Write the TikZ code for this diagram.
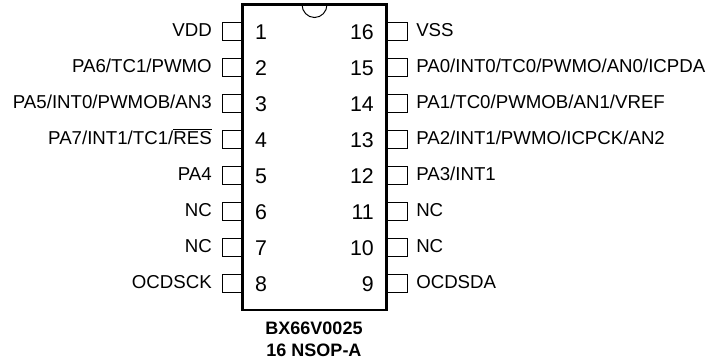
\documentclass[tikz,border=0pt]{standalone}
\usepackage{fontspec}
\setmainfont{Liberation Sans}
\usetikzlibrary{positioning}
\usetikzlibrary{calc}

\tikzset{
	pinbox/.style={draw, line width=0.75pt, minimum width=15pt, minimum height=13.5pt, inner sep=0pt},
	pintext/.style={font=\fontsize{14}{16}\selectfont, inner sep=0pt},
	pinnum/.style={font=\fontsize{16}{18}\selectfont, inner sep=0pt},
	chiptext/.style={font=\fontsize{13.5}{16.5}\selectfont\bfseries, align=center, inner sep=0pt}
}

\begin{document}
\begin{tikzpicture}[x=0.75pt,y=-0.75pt]
		\useasboundingbox (0,0) rectangle (707,362);

		% Define the corners of the body
		\coordinate (nw) at (242.7,4.5);
		\coordinate (se) at (386.7,310);

		% Left pins
		\foreach \row/\num/\name in {0/1/VDD, 1/2/PA6\slash TC1\slash PWMO, 2/3/PA5\slash INT0\slash PWMOB\slash AN3,
			3/4/PA7\slash INT1\slash TC1\slash$\overline{\mbox{RES}}$, 4/5/PA4, 5/6/NC, 6/7/NC, 7/8/OCDSCK}
		{
			\node[pinbox] (pin\num) at (232,{31+36*\row}) {};
			\node[pintext, anchor=base east] (name\num) at (212,{36.5+36*\row}) {\name};
			\node[pinnum] (num\num) at (261,{32+36*\row}) {\num};
		}

		% Right pins
		\foreach \row/\num/\name in {0/16/VSS, 1/15/PA0\slash INT0\slash TC0\slash PWMO\slash AN0\slash ICPDA,
			2/14/PA1\slash TC0\slash PWMOB\slash AN1\slash VREF, 3/13/PA2\slash INT1\slash PWMO\slash ICPCK\slash AN2,
			4/12/PA3\slash INT1, 5/11/NC, 6/10/NC, 7/9/OCDSDA}
		{
			\node[pinbox] (pin\num) at (397,{31+36*\row}) {};
			\node[pintext, anchor=base west] (name\num) at (416,{36.5+36*\row}) {\name};
			\node[pinnum, anchor=east] (num\num) at (374,{32+36*\row}) {\num};
		}

		% Draw the notch and the body
		\draw[line width=0.75pt] (302,4.5) arc (180:360:12.5 and -13);
		\draw[line width=1.9pt] (nw) rectangle (se);

		\node[chiptext] (chip) at (314,339) {BX66V0025\\16 NSOP-A};
\end{tikzpicture}
\end{document}
